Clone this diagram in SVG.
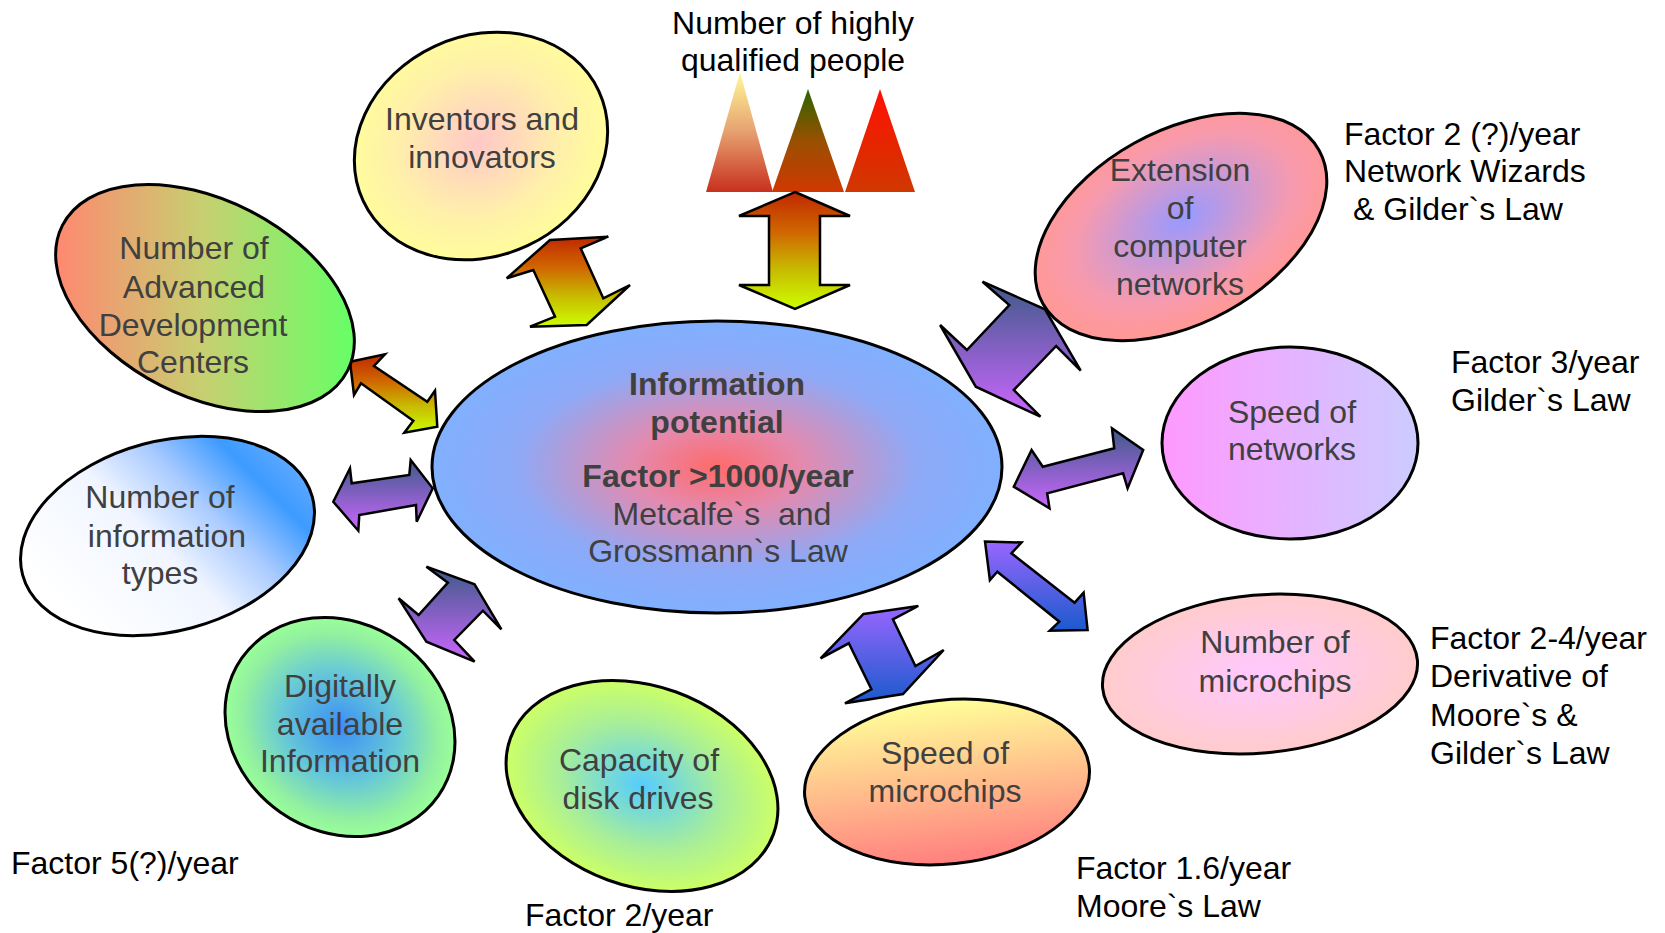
<svg xmlns="http://www.w3.org/2000/svg" width="1665" height="933" viewBox="0 0 1665 933">
<style>
.shape{stroke:#000;stroke-width:3}
.arrow{stroke:#000;stroke-width:2.5;stroke-linejoin:miter}
.lbl{font-family:"Liberation Sans",Arial,sans-serif;font-size:32px;fill:#404040;text-anchor:middle}
.bold{font-weight:bold}
.note{font-family:"Liberation Sans",Arial,sans-serif;font-size:32px;fill:#000}
</style>
<defs>
<radialGradient id="gPot" cx="0.5" cy="0.5" r="0.5">
<stop offset="0" stop-color="#FF6A6A"/><stop offset="0.3" stop-color="#E48AAE"/><stop offset="0.7" stop-color="#8EA9F6"/><stop offset="1" stop-color="#80B0FF"/>
</radialGradient>
<radialGradient id="gInv" cx="0.5" cy="0.48" r="0.55">
<stop offset="0" stop-color="#FFC8C8"/><stop offset="0.6" stop-color="#FFF0AA"/><stop offset="1" stop-color="#FFFF99"/>
</radialGradient>
<linearGradient id="gAdc" x1="0" y1="0" x2="1" y2="0">
<stop offset="0" stop-color="#FF8870"/><stop offset="0.5" stop-color="#C6D070"/><stop offset="1" stop-color="#66FF66"/>
</linearGradient>
<linearGradient id="gTypes" gradientUnits="userSpaceOnUse" x1="60" y1="600" x2="245" y2="415">
<stop offset="0" stop-color="#FFFFFF"/><stop offset="0.42" stop-color="#F0F5FF"/><stop offset="0.65" stop-color="#A8CAFF"/><stop offset="0.86" stop-color="#3D9BFF"/><stop offset="1" stop-color="#5EA8FF"/>
</linearGradient>
<radialGradient id="gDig" cx="0.5" cy="0.5" r="0.5">
<stop offset="0" stop-color="#3A8EF5"/><stop offset="0.5" stop-color="#66C8D8"/><stop offset="0.85" stop-color="#92F0A0"/><stop offset="1" stop-color="#99FF99"/>
</radialGradient>
<radialGradient id="gCap" cx="0.5" cy="0.5" r="0.5">
<stop offset="0" stop-color="#55CCFF"/><stop offset="0.6" stop-color="#A8EE99"/><stop offset="1" stop-color="#CCFF66"/>
</radialGradient>
<linearGradient id="gSpMic" x1="0" y1="0" x2="0" y2="1">
<stop offset="0" stop-color="#FFFF99"/><stop offset="1" stop-color="#FF7F7F"/>
</linearGradient>
<radialGradient id="gNumMic" cx="0.5" cy="0.5" r="0.5">
<stop offset="0" stop-color="#FFC8FF"/><stop offset="1" stop-color="#FFCCCC"/>
</radialGradient>
<linearGradient id="gSpNet" x1="0" y1="0" x2="1" y2="0">
<stop offset="0" stop-color="#FF99FF"/><stop offset="1" stop-color="#CCCCFF"/>
</linearGradient>
<radialGradient id="gExt" cx="0.52" cy="0.47" r="0.5">
<stop offset="0" stop-color="#9999FF"/><stop offset="0.75" stop-color="#F79AAE"/><stop offset="1" stop-color="#FF9999"/>
</radialGradient>
<linearGradient id="gTri1" x1="0" y1="0" x2="0" y2="1">
<stop offset="0" stop-color="#FFFA9A"/><stop offset="0.5" stop-color="#E6A070"/><stop offset="1" stop-color="#C8301E"/>
</linearGradient>
<linearGradient id="gTri2" x1="0" y1="0" x2="0" y2="1">
<stop offset="0" stop-color="#2E6400"/><stop offset="0.5" stop-color="#985000"/><stop offset="1" stop-color="#D03800"/>
</linearGradient>
<linearGradient id="gTri3" x1="0" y1="0" x2="0" y2="1">
<stop offset="0" stop-color="#FF1000"/><stop offset="1" stop-color="#D03800"/>
</linearGradient>
<linearGradient id="gOrange" x1="0" y1="0" x2="0" y2="1">
<stop offset="0" stop-color="#C02800"/><stop offset="0.35" stop-color="#D06800"/><stop offset="0.65" stop-color="#C8B800"/><stop offset="1" stop-color="#CCFF00"/>
</linearGradient>
<linearGradient id="gPurple" x1="0" y1="0" x2="0" y2="1">
<stop offset="0" stop-color="#3D5A88"/><stop offset="1" stop-color="#CC66FF"/>
</linearGradient>
<linearGradient id="gBlue" x1="0" y1="0" x2="0" y2="1">
<stop offset="0" stop-color="#9966FF"/><stop offset="1" stop-color="#1A5ACC"/>
</linearGradient>
</defs>
<rect width="1665" height="933" fill="#fff"/>

<g id="qualified-people">
<polygon points="740,72 773,192 706,192" fill="url(#gTri1)"/>
<polygon points="808,89 844,192 772,192" fill="url(#gTri2)"/>
<polygon points="880,89 915,192 845,192" fill="url(#gTri3)"/>
<text class="note" x="793" y="34" text-anchor="middle">Number of highly</text>
<text class="note" x="793" y="71" text-anchor="middle">qualified people</text>
</g>

<g id="connectors">
<polygon class="arrow" fill="url(#gOrange)" points="795,192 850,216 820,216 820,285 850,285 795,309 739,285 769,285 769,216 739,216"/>
<polygon class="arrow" fill="url(#gOrange)" points="550,240 608.3,236.7 580.7,248.3 603.3,298.3 630,285 586.7,325 530,326.7 555,316.7 533.3,270 506.7,278.3"/>
<polygon class="arrow" fill="url(#gOrange)" points="350,361.7 385,354.3 374,366 427.3,401.7 435,390.7 437.3,426.7 404.3,432.7 413.3,420.7 361,383.3 354,395"/>
<polygon class="arrow" fill="url(#gPurple)" points="333.3,501.7 350,468.3 351.7,483.3 409.3,475 410.7,460 432.7,488.3 416.7,521.7 416,505 359.3,515 358.3,530.7"/>
<polygon class="arrow" fill="url(#gPurple)" points="474.6,584.3 501.4,629.3 482.9,610.7 454.3,640 474.6,661.7 426.4,641.7 398.6,598.3 418.6,615 447.9,582.7 426.4,566.7"/>
<polygon class="arrow" fill="url(#gPurple)" points="982.5,281.7 1045,309.3 1080.7,370.7 1056.2,346 1013.8,390 1040.5,416.7 975.8,386.7 940.1,325 966.9,350 1009.3,305"/>
<polygon class="arrow" fill="url(#gPurple)" points="1013.8,486.7 1031.6,450 1042.8,466.7 1114.2,448.3 1112,428.3 1143.2,450 1127.6,488.3 1123.1,473.3 1047.2,493.3 1049.5,508.3"/>
<polygon class="arrow" fill="url(#gBlue)" points="985,541.5 1021.5,542.5 1011.4,553.3 1074.6,602.7 1083.6,592.7 1087.6,630 1049.8,630.7 1059.3,621.7 997.3,571.7 989.9,580"/>
<polygon class="arrow" fill="url(#gBlue)" points="863.5,614 918.3,606 892.9,619.3 915.4,666 943.7,650 903,694 844.9,703.3 871.4,689.3 848.8,643.3 820.6,658.3"/>
</g>

<g id="information-potential">
<ellipse class="shape" cx="717" cy="467" rx="285" ry="146" fill="url(#gPot)"/>
<text class="lbl bold" x="717" y="395">Information</text>
<text class="lbl bold" x="717" y="433">potential</text>
<text class="lbl bold" x="718" y="487">Factor &gt;1000/year</text>
<text class="lbl" x="722" y="525" xml:space="preserve">Metcalfe`s  and</text>
<text class="lbl" x="718" y="562">Grossmann`s Law</text>
</g>

<g id="inventors">
<ellipse class="shape" cx="481" cy="146" rx="130" ry="110" transform="rotate(-25 481 146)" fill="url(#gInv)"/>
<text class="lbl" x="482" y="130">Inventors and</text>
<text class="lbl" x="482" y="168">innovators</text>
</g>

<g id="advanced-development-centers">
<path class="shape" fill="url(#gAdc)" d="M62.4,225.4 A160,98 27 1 0 347.6,370.6 A160,98 27 1 0 62.4,225.4 Z"/>
<text class="lbl" x="194" y="259">Number of</text>
<text class="lbl" x="194" y="298">Advanced</text>
<text class="lbl" x="193" y="336">Development</text>
<text class="lbl" x="193" y="373">Centers</text>
</g>

<g id="information-types">
<path class="shape" fill="url(#gTypes)" d="M22.6,574.8 A150,95 -15 1 0 312.4,497.2 A150,95 -15 1 0 22.6,574.8 Z"/>
<text class="lbl" x="160" y="508">Number of</text>
<text class="lbl" x="167" y="547">information</text>
<text class="lbl" x="160" y="584">types</text>
</g>

<g id="digitally-available">
<ellipse class="shape" cx="340" cy="727" rx="120" ry="104" transform="rotate(35 340 727)" fill="url(#gDig)"/>
<text class="lbl" x="340" y="697">Digitally</text>
<text class="lbl" x="340" y="735">available</text>
<text class="lbl" x="340" y="772">Information</text>
</g>

<g id="disk-drives">
<ellipse class="shape" cx="642" cy="786" rx="140" ry="100" transform="rotate(20 642 786)" fill="url(#gCap)"/>
<text class="lbl" x="639" y="771">Capacity of</text>
<text class="lbl" x="638" y="809">disk drives</text>
</g>

<g id="speed-microchips">
<ellipse class="shape" cx="947" cy="782" rx="143" ry="82" transform="rotate(-6 947 782)" fill="url(#gSpMic)"/>
<text class="lbl" x="945" y="764">Speed of</text>
<text class="lbl" x="945" y="802">microchips</text>
</g>

<g id="number-microchips">
<ellipse class="shape" cx="1260" cy="674" rx="158" ry="79" transform="rotate(-5 1260 674)" fill="url(#gNumMic)"/>
<text class="lbl" x="1275" y="653">Number of</text>
<text class="lbl" x="1275" y="692">microchips</text>
</g>

<g id="speed-networks">
<ellipse class="shape" cx="1290" cy="443" rx="128" ry="96" fill="url(#gSpNet)"/>
<text class="lbl" x="1292" y="423">Speed of</text>
<text class="lbl" x="1292" y="460">networks</text>
</g>

<g id="computer-networks">
<ellipse class="shape" cx="1181" cy="227" rx="158" ry="96" transform="rotate(-29 1181 227)" fill="url(#gExt)"/>
<text class="lbl" x="1180" y="181">Extension</text>
<text class="lbl" x="1180" y="219">of</text>
<text class="lbl" x="1180" y="257">computer</text>
<text class="lbl" x="1180" y="295">networks</text>
</g>

<g id="annotations">
<text class="note" x="1344" y="145">Factor 2 (?)/year</text>
<text class="note" x="1344" y="182">Network Wizards</text>
<text class="note" x="1353" y="220">&amp; Gilder`s Law</text>
<text class="note" x="1451" y="373">Factor 3/year</text>
<text class="note" x="1451" y="411">Gilder`s Law</text>
<text class="note" x="1430" y="649">Factor 2-4/year</text>
<text class="note" x="1430" y="687">Derivative of</text>
<text class="note" x="1430" y="726">Moore`s &amp;</text>
<text class="note" x="1430" y="764">Gilder`s Law</text>
<text class="note" x="1076" y="879">Factor 1.6/year</text>
<text class="note" x="1076" y="917">Moore`s Law</text>
<text class="note" x="525" y="926">Factor 2/year</text>
<text class="note" x="11" y="874">Factor 5(?)/year</text>
</g>
</svg>
